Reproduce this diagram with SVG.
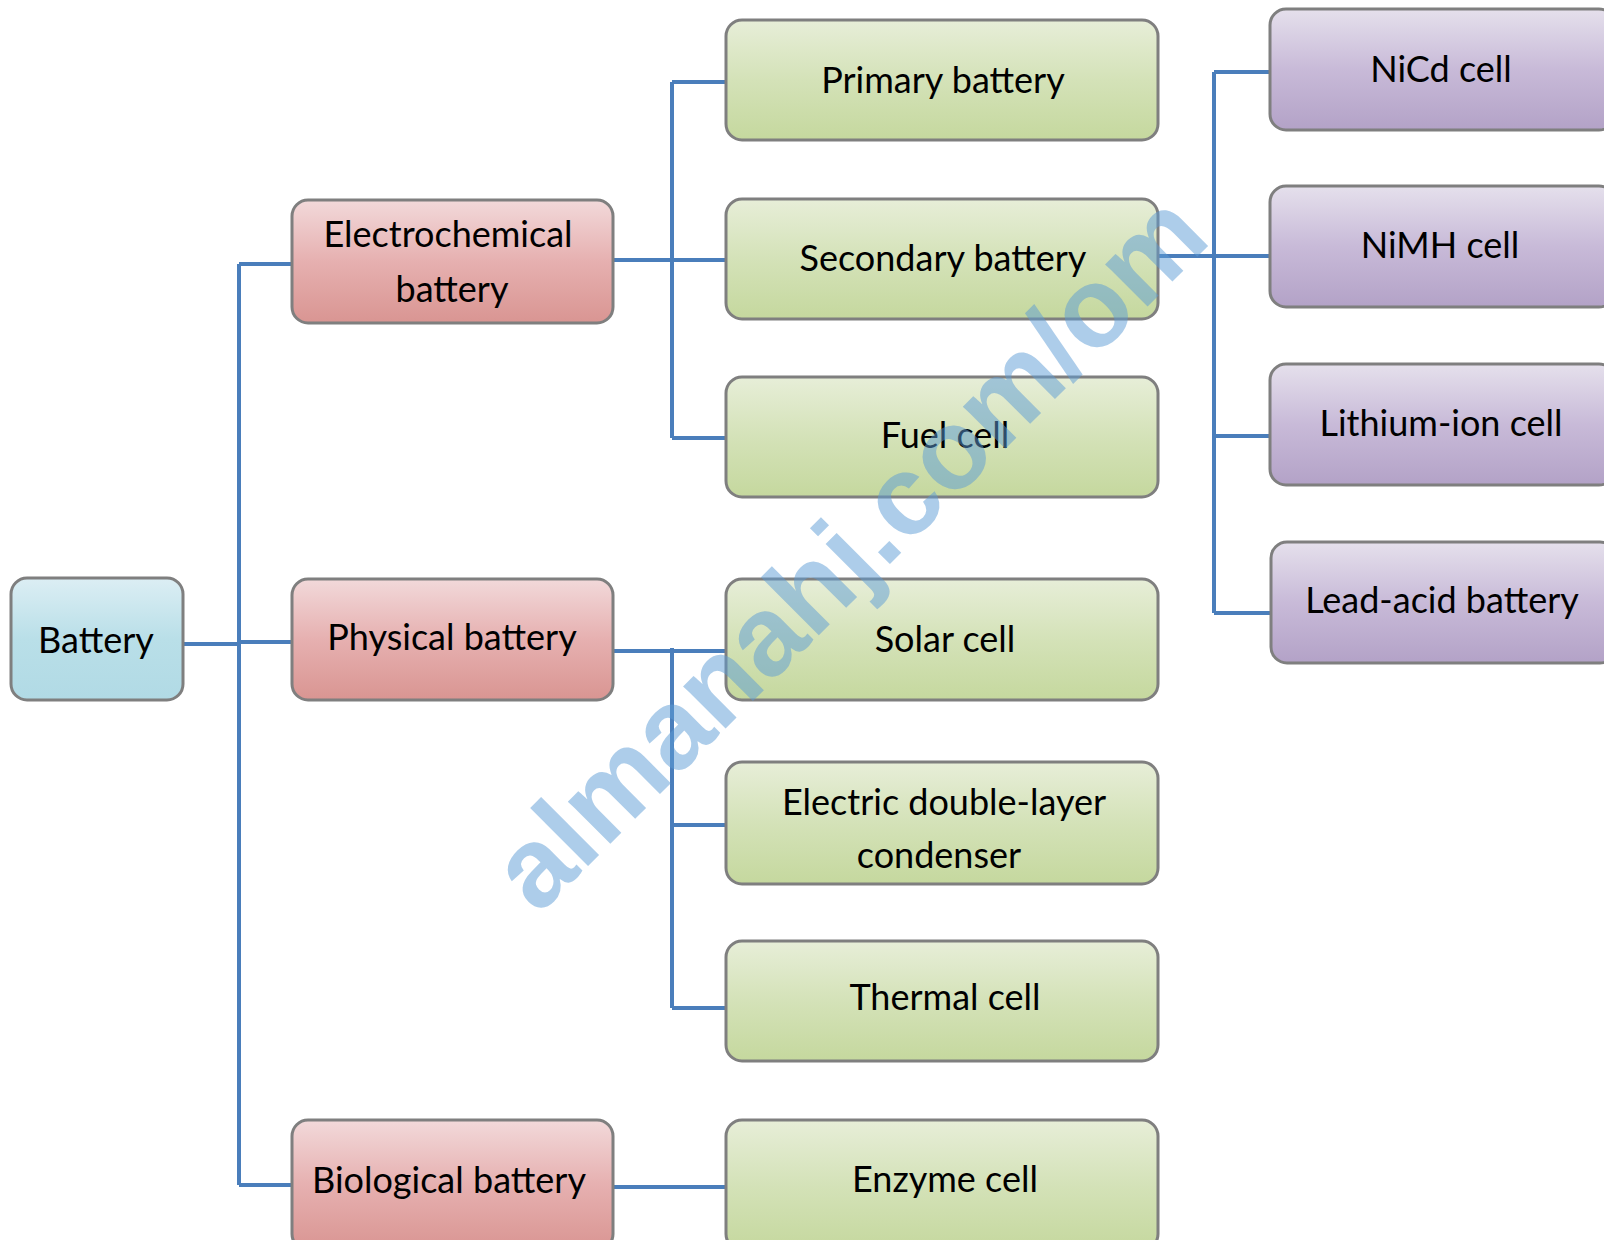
<svg xmlns="http://www.w3.org/2000/svg" width="1604" height="1240" viewBox="0 0 1604 1240">
<defs>
<linearGradient id="gBlue" x1="0" y1="0" x2="0" y2="1"><stop offset="0" stop-color="#dceef4"/><stop offset="0.5" stop-color="#b9dfe8"/><stop offset="1" stop-color="#b1dae5"/></linearGradient>
<linearGradient id="gRed" x1="0" y1="0" x2="0" y2="1"><stop offset="0" stop-color="#f2d9da"/><stop offset="0.5" stop-color="#e6b0b0"/><stop offset="1" stop-color="#d99592"/></linearGradient>
<linearGradient id="gGreen" x1="0" y1="0" x2="0" y2="1"><stop offset="0" stop-color="#e7eed8"/><stop offset="0.5" stop-color="#d4e2b8"/><stop offset="1" stop-color="#c5d89e"/></linearGradient>
<linearGradient id="gPurple" x1="0" y1="0" x2="0" y2="1"><stop offset="0" stop-color="#e5e0ec"/><stop offset="0.5" stop-color="#c8bad8"/><stop offset="1" stop-color="#b3a2c7"/></linearGradient>
<style>
.box{stroke:#7f7f7f;stroke-width:3}
.blue{fill:url(#gBlue)}
.red{fill:url(#gRed)}
.green{fill:url(#gGreen)}
.purple{fill:url(#gPurple)}
.lbl{font-family:Lato,"Liberation Sans",sans-serif;font-size:36px;fill:#000;text-anchor:middle}
.conn{fill:none;stroke:#4a7ebb;stroke-width:4}
.wm{font-family:"Liberation Sans",Arial,sans-serif;font-weight:bold;font-size:113px;fill:#5b9bd5;fill-opacity:0.5}
</style>
</defs>
<rect width="1604" height="1240" fill="#ffffff"/>
<g id="connectors">
<path class="conn" d="M183,644 H239 M239,264 V1185 M239,264 H291 M239,642 H291 M239,1185 H291"/>
<path class="conn" d="M613,260 H725 M672,82 V438 M672,82 H725 M672,438 H725"/>
<path class="conn" d="M613,651 H725 M672,648 V1008 M672,825 H725 M672,1008 H725"/>
<path class="conn" d="M613,1187 H725"/>
<path class="conn" d="M1158,256 H1270 M1214,72 V613 M1214,72 H1270 M1214,436 H1270 M1214,613 H1270"/>
</g>
<g id="n-battery"><rect class="box blue" x="11" y="578" width="172" height="122" rx="16"/><text class="lbl" x="96" y="653">Battery</text></g>
<g id="n-electrochemical"><rect class="box red" x="292" y="200" width="321" height="123" rx="16"/><text class="lbl" x="448" y="247">Electrochemical</text><text class="lbl" x="452" y="302">battery</text></g>
<g id="n-physical"><rect class="box red" x="292" y="579" width="321" height="121" rx="16"/><text class="lbl" x="452" y="650">Physical battery</text></g>
<g id="n-biological"><rect class="box red" x="292" y="1120" width="321" height="130" rx="16"/><text class="lbl" x="449" y="1193">Biological battery</text></g>
<g id="n-primary"><rect class="box green" x="726" y="20" width="432" height="120" rx="16"/><text class="lbl" x="943" y="93">Primary battery</text></g>
<g id="n-secondary"><rect class="box green" x="726" y="199" width="432" height="120" rx="16"/><text class="lbl" x="943" y="271">Secondary battery</text></g>
<g id="n-fuel"><rect class="box green" x="726" y="377" width="432" height="120" rx="16"/><text class="lbl" x="945" y="448">Fuel cell</text></g>
<g id="n-solar"><rect class="box green" x="726" y="579" width="432" height="121" rx="16"/><text class="lbl" x="945" y="652">Solar cell</text></g>
<g id="n-edlc"><rect class="box green" x="726" y="762" width="432" height="122" rx="16"/><text class="lbl" x="944" y="815">Electric double-layer</text><text class="lbl" x="939" y="868">condenser</text></g>
<g id="n-thermal"><rect class="box green" x="726" y="941" width="432" height="120" rx="16"/><text class="lbl" x="945" y="1010">Thermal cell</text></g>
<g id="n-enzyme"><rect class="box green" x="726" y="1120" width="432" height="130" rx="16"/><text class="lbl" x="945" y="1192">Enzyme cell</text></g>
<g id="n-nicd"><rect class="box purple" x="1270" y="9" width="345" height="121" rx="16"/><text class="lbl" x="1441" y="82">NiCd cell</text></g>
<g id="n-nimh"><rect class="box purple" x="1270" y="186" width="345" height="121" rx="16"/><text class="lbl" x="1440" y="258">NiMH cell</text></g>
<g id="n-lithium"><rect class="box purple" x="1270" y="364" width="345" height="121" rx="16"/><text class="lbl" x="1441" y="436">Lithium-ion cell</text></g>
<g id="n-leadacid"><rect class="box purple" x="1271" y="542" width="345" height="121" rx="16"/><text class="lbl" x="1442" y="613">Lead-acid battery</text></g>
<text class="wm" x="538" y="916" transform="rotate(-45 538 916)">almanahj.com/om</text>
</svg>
